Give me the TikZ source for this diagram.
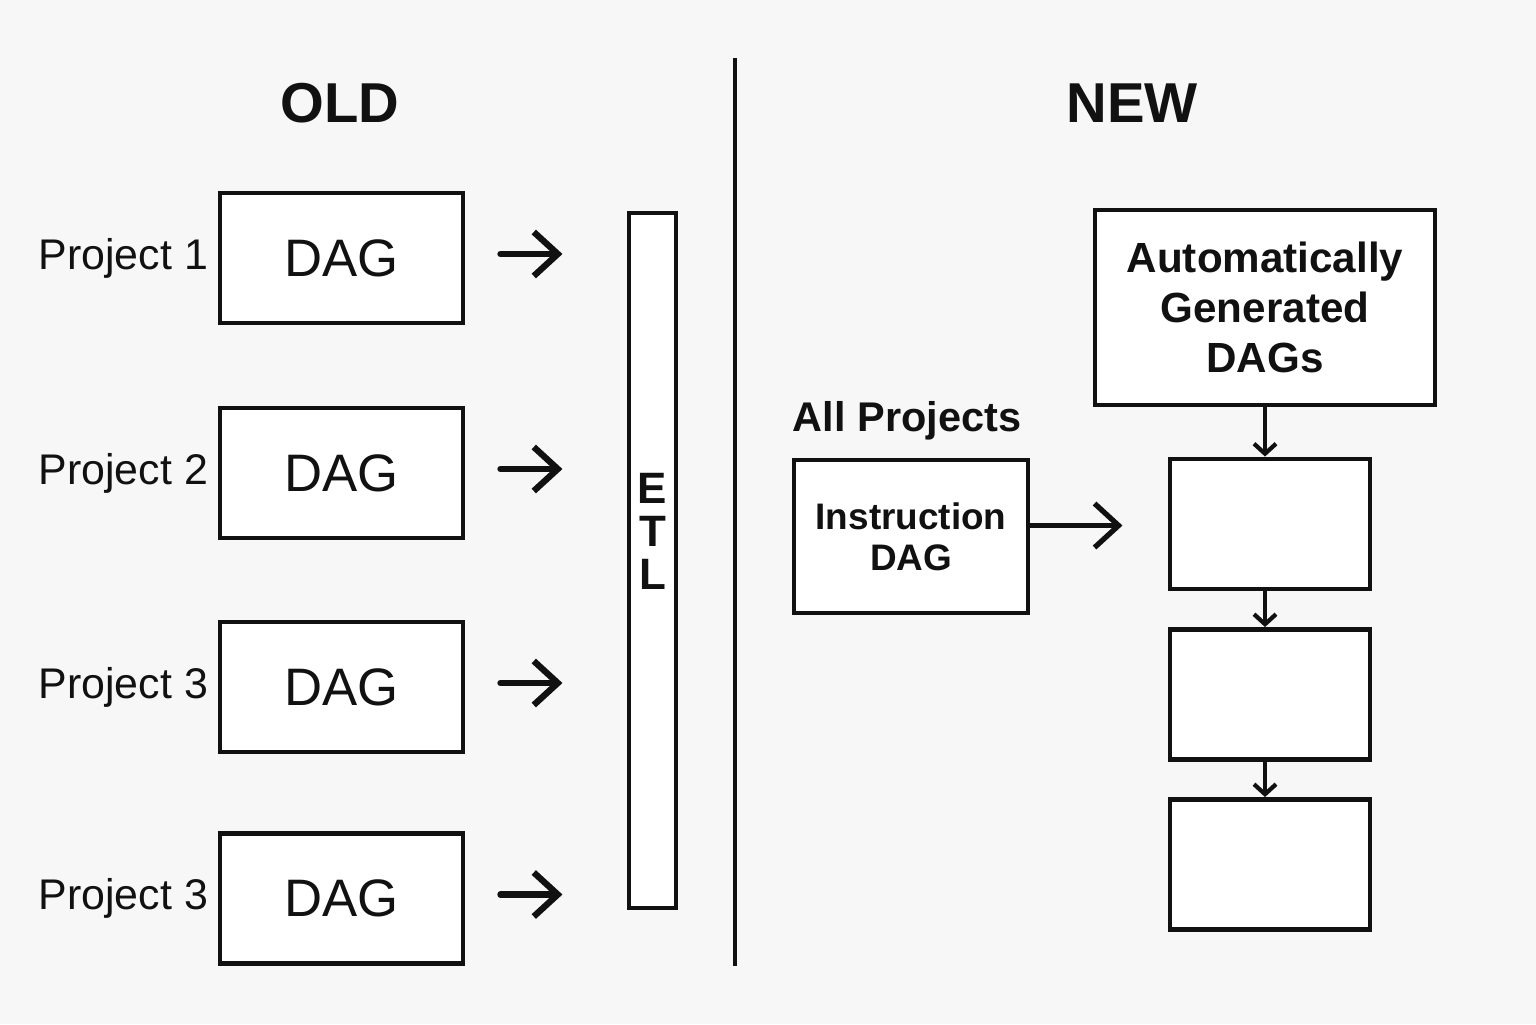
\documentclass[tikz,border=0pt]{standalone}
\usepackage{fontspec}
\setmainfont{Liberation Sans}
\usepackage{tikz}
\usetikzlibrary{arrows.meta, positioning}

\definecolor{bgcol}{HTML}{F7F7F7}
\definecolor{ink}{HTML}{111111}

\begin{document}
\begin{tikzpicture}[
    title/.style={font=\fontsize{16}{19}\selectfont\bfseries, text=ink},
    dag/.style={draw=ink, line width=1.4pt, fill=white, minimum width=2.43cm,
                minimum height=1.30cm, font=\fontsize{15}{18}\selectfont, text=ink},
    proj/.style={anchor=west, inner sep=0pt, font=\fontsize{12.2}{15}\selectfont, text=ink},
    etlbar/.style={draw=ink, line width=1.4pt, fill=white, minimum width=0.47cm,
                   minimum height=6.95cm},
    etltext/.style={align=center, inner sep=0pt, text=ink,
                    font=\fontsize{12.5}{12.2}\selectfont\bfseries},
    newbox/.style={draw=ink, line width=1.4pt, fill=white, align=center, text=ink},
    blank/.style={draw=ink, line width=1.4pt, fill=white, minimum width=2.00cm,
                  minimum height=1.30cm},
    arr/.style={-{Straight Barb[length=2.4mm, width=4.4mm]}, line width=1.8pt,
                line cap=round, draw=ink},
    darr/.style={-{Straight Barb[length=1mm, width=2.2mm]}, line width=1.2pt, draw=ink}
]

% Canvas
\fill[bgcol] (0,0) rectangle (15.36,-10.24);
\useasboundingbox (0,0) rectangle (15.36,-10.24);

% Titles and divider
\node[title] (oldt) at (3.40,-1.03) {OLD};
\node[title] (newt) at (11.32,-1.03) {NEW};
\draw[ink, line width=1.2pt] (7.35,-0.58) -- (7.35,-9.66);

% Old setup: one DAG per project
\node[dag] (dag1) at (3.415,-2.58)  {DAG};
\node[dag] (dag2) at (3.415,-4.73)  {DAG};
\node[dag] (dag3) at (3.415,-6.87)  {DAG};
\node[dag] (dag4) at (3.415,-8.985) {DAG};

\node[proj] (proj1) at (0.38,-2.58)  {Project 1};
\node[proj] (proj2) at (0.38,-4.73)  {Project 2};
\node[proj] (proj3) at (0.38,-6.87)  {Project 3};
\node[proj] (proj4) at (0.38,-8.985) {Project 3};

% ETL bar
\node[etlbar] (etl) at (6.525,-5.605) {};
\node[etltext] (etlt) at ([yshift=2.9mm]etl.center) {E\\T\\L};

% Old arrows towards ETL
\draw[arr] ([xshift=3.5mm,yshift=0.4mm]dag1.east) -- ([xshift=9.7mm,yshift=0.4mm]dag1.east);
\draw[arr] ([xshift=3.5mm,yshift=0.4mm]dag2.east) -- ([xshift=9.7mm,yshift=0.4mm]dag2.east);
\draw[arr] ([xshift=3.5mm,yshift=0.4mm]dag3.east) -- ([xshift=9.7mm,yshift=0.4mm]dag3.east);
\draw[arr] ([xshift=3.5mm,yshift=0.4mm]dag4.east) -- ([xshift=9.7mm,yshift=0.4mm]dag4.east);

% New setup: instruction DAG generates the rest
\node[title, font=\fontsize{11.8}{14}\selectfont\bfseries] (allp) at (9.07,-4.21) {All Projects};
\node[newbox, minimum width=2.34cm, minimum height=1.53cm,
      font=\fontsize{10.5}{11.7}\selectfont\bfseries] (instr) at (9.11,-5.365) {Instruction\\DAG};

\node[newbox, minimum width=3.40cm, minimum height=1.95cm,
      font=\fontsize{12}{14.2}\selectfont\bfseries] (auto) at (12.65,-3.075)
      {Automatically\\Generated\\DAGs};

\node[blank] (gen1) at (12.70,-5.24)  {};
\node[blank] (gen2) at (12.70,-6.945) {};
\node[blank] (gen3) at (12.70,-8.645) {};

\draw[arr, line width=1.5pt] ([yshift=1.1mm]instr.east) -- ([xshift=9.2mm,yshift=1.1mm]instr.east);

\draw[darr] (auto.south) -- (auto.south |- gen1.north);
\draw[darr] (gen1.south -| auto.south) -- (gen2.north -| auto.south);
\draw[darr] (gen2.south -| auto.south) -- (gen3.north -| auto.south);

\end{tikzpicture}
\end{document}
